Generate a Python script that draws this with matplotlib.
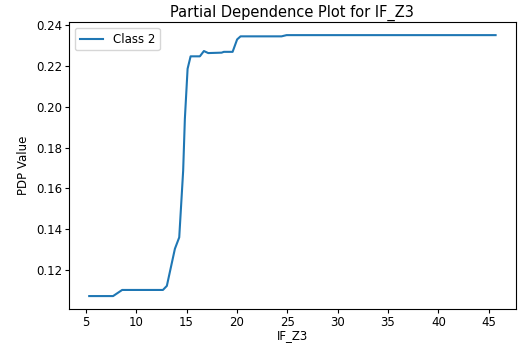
import matplotlib
matplotlib.use("Agg")
import matplotlib.pyplot as plt

# PDP values
if_z3 = [5.33, 7.7, 8.6, 12.65, 13.04, 13.84, 14.27, 14.66, 14.83, 15.1, 15.4,
         16.32, 16.72, 17.15, 18.48, 18.7, 19.57, 20.02, 20.36, 24.43, 24.93, 45.69]
pdp_class2 = [0.1072, 0.1072, 0.1102, 0.1102, 0.1122, 0.1304, 0.136, 0.1687, 0.1942,
              0.2187, 0.2248, 0.2248, 0.2274, 0.2264, 0.2266, 0.227, 0.227, 0.2331,
              0.2346, 0.2346, 0.2352, 0.2352]

fig = plt.figure(figsize=(5.18, 3.45), dpi=100)
ax = fig.add_axes([0.133, 0.104, 0.863, 0.832])

ax.plot(if_z3, pdp_class2, label="Class 2")

ax.set_title("Partial Dependence Plot for IF_Z3", fontsize=10.5, pad=4)
ax.set_xlabel("IF_Z3", fontsize=8.5, labelpad=0)
ax.set_ylabel("PDP Value", fontsize=8.5)
ax.tick_params(axis="both", labelsize=8.5, length=3, pad=2)
ax.legend(loc="upper left", fontsize=8.5)

fig.savefig("out.png", dpi=100)
